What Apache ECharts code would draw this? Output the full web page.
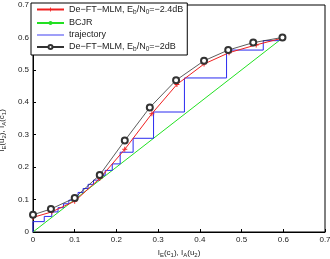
<!DOCTYPE html>
<html>
<head>
<meta charset="utf-8">
<script src="https://cdn.jsdelivr.net/npm/echarts@6/dist/echarts.min.js"></script>
<style>
  html, body { margin: 0; padding: 0; background: #fff; }
  #main { width: 330px; height: 259px; }
</style>
</head>
<body>
<div id="main"></div>
<script>
// De-FT-MLM, Eb/N0 = -2.4dB
const redX = [0, 0.045, 0.1, 0.16, 0.22, 0.285, 0.345, 0.41, 0.47, 0.535, 0.598];
const redY = [0.045, 0.062, 0.095, 0.165, 0.255, 0.365, 0.455, 0.518, 0.553, 0.577, 0.598];
// De-FT-MLM, Eb/N0 = -2dB
const blackX = [0, 0.043, 0.1, 0.16, 0.22, 0.28, 0.343, 0.41, 0.468, 0.528, 0.598];
const blackY = [0.053, 0.071, 0.105, 0.176, 0.282, 0.384, 0.468, 0.528, 0.561, 0.584, 0.6];
// BCJR
const greenX = [0, 0.6];
const greenY = [0, 0.6];
// trajectory
const trajX = [0, 0, 0.027, 0.027, 0.045, 0.045, 0.06, 0.06, 0.073, 0.073, 0.086, 0.086,
  0.097, 0.097, 0.108, 0.108, 0.12, 0.12, 0.132, 0.132, 0.145, 0.145, 0.158, 0.158,
  0.173, 0.173, 0.19, 0.19, 0.209, 0.209, 0.24, 0.24, 0.289, 0.289, 0.363, 0.363,
  0.464, 0.464, 0.552, 0.552, 0.588, 0.598];
const trajY = [0, 0.032, 0.032, 0.048, 0.048, 0.062, 0.062, 0.075, 0.075, 0.087, 0.087, 0.098,
  0.098, 0.11, 0.11, 0.122, 0.122, 0.134, 0.134, 0.147, 0.147, 0.16, 0.16, 0.175,
  0.175, 0.19, 0.19, 0.21, 0.21, 0.246, 0.246, 0.289, 0.289, 0.37, 0.37, 0.475,
  0.475, 0.561, 0.561, 0.59, 0.59, 0.598];

const font = 'Liberation Sans';
const sub = { fontSize: 6, padding: [5, 0, 0, 0], fontFamily: font, color: '#222' };
const lsub = { fontSize: 6.5, padding: [5, 0, 0, 0], fontFamily: font, color: '#222' };
const txt = { fontSize: 9, fontFamily: font, color: '#222' };

function pairs(xs, ys) {
  return xs.map((x, i) => [x, ys[i]]);
}

const plus = 'path://M4,0H6V4H10V6H6V10H4V6H0V4H4Z';
const dash = 'path://M0,0H30V1H0Z';

let option = {
  animation: false,
  backgroundColor: '#fff',
  grid: {
    left: 33, right: 5, top: 5, bottom: 27,
    outerBoundsMode: 'none',
    show: true, borderColor: '#000', borderWidth: 1, backgroundColor: 'transparent'
  },
  xAxis: {
    type: 'value',
    min: 0,
    max: 0.7,
    interval: 0.1,
    name: 'I{s|E}(c{s|1}), I{s|A}(u{s|2})',
    nameLocation: 'middle',
    nameGap: 14,
    nameTextStyle: { rich: { s: sub }, fontSize: 8, fontFamily: font, color: '#222' },
    axisLine: { show: true, onZero: false, lineStyle: { color: '#000', width: 1 } },
    axisTick: { show: true, inside: true, length: 3, lineStyle: { color: '#000' } },
    axisLabel: { fontSize: 8, fontFamily: font, color: '#222', margin: 4 },
    splitLine: { show: false }
  },
  yAxis: {
    type: 'value',
    min: 0,
    max: 0.7,
    interval: 0.1,
    name: 'I{s|E}(u{s|2}), I{s|A}(c{s|1})',
    nameLocation: 'middle',
    nameGap: 22,
    nameTextStyle: { rich: { s: sub }, fontSize: 8, fontFamily: font, color: '#222', padding: [0, 24, 0, 0] },
    axisLine: { show: true, onZero: false, lineStyle: { color: '#000', width: 1 } },
    axisTick: { show: true, inside: true, length: 3, lineStyle: { color: '#000' } },
    axisLabel: { fontSize: 8, fontFamily: font, color: '#222', margin: 4 },
    splitLine: { show: false }
  },
  legend: {
    orient: 'vertical',
    left: 31,
    top: 3,
    padding: [2, 4, 2, 5],
    itemWidth: 27,
    itemHeight: 5,
    itemGap: 3,
    backgroundColor: '#fff',
    borderColor: '#000',
    borderWidth: 1,
    borderRadius: 0,
    data: [
      { name: 'red' },
      { name: 'green' },
      { name: 'traj', icon: dash },
      { name: 'black' }
    ],
    textStyle: { rich: { s: lsub, t: txt }, fontSize: 9, fontFamily: font, color: '#222' },
    formatter: function(n) {
      if (n === 'red') return '{t|De−FT−MLM, E}{s|b}{t|/N}{s|0}{t|=−2.4dB}';
      if (n === 'black') return '{t|De−FT−MLM, E}{s|b}{t|/N}{s|0}{t|=−2dB}';
      if (n === 'green') return '{t|BCJR}';
      return '{t|trajectory}';
    }
  },
  series: [
    {
      name: 'green',
      type: 'line',
      data: pairs(greenX, greenY),
      symbol: 'circle',
      symbolSize: 2,
      showSymbol: false,
      lineStyle: { color: '#22e022', width: 1 },
      itemStyle: { color: '#22e022' },
      z: 2
    },
    {
      name: 'traj',
      type: 'line',
      data: pairs(trajX, trajY),
      symbol: 'none',
      lineStyle: { color: '#2a2af0', width: 1 },
      itemStyle: { color: '#2a2af0' },
      z: 3
    },
    {
      name: 'red',
      type: 'line',
      data: pairs(redX, redY),
      symbol: plus,
      symbolSize: 5,
      lineStyle: { color: '#f02020', width: 1 },
      itemStyle: { color: '#f02020' },
      z: 4
    },
    {
      name: 'black',
      type: 'line',
      data: pairs(blackX, blackY),
      symbol: 'emptyCircle',
      symbolSize: 6,
      lineStyle: { color: '#333', width: 0.8 },
      itemStyle: { color: '#333', borderColor: '#333', borderWidth: 0.8 },
      z: 5
    }
  ]
};

let myChart = echarts.init(document.getElementById('main'));
myChart.setOption(option);
</script>
</body>
</html>
